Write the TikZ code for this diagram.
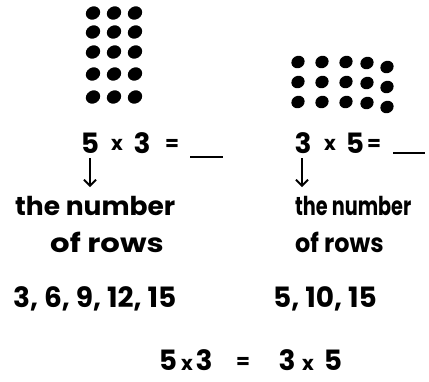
\documentclass[tikz,border=0pt]{standalone}
\usepackage{fontspec}
\setmainfont{Poppins}
\usetikzlibrary{arrows.meta}
\begin{document}
\begin{tikzpicture}[x=1pt,y=-1pt,
  dot/.style={fill=black,draw=none},
  txt/.style={inner sep=0pt,font=\fontsize{28}{30}\selectfont\bfseries},
  sml/.style={inner sep=0pt,font=\fontsize{20}{22}\selectfont\bfseries},
  lbl/.style={inner sep=0pt,align=left,font=\fontsize{26}{37}\selectfont\bfseries},
  arr/.style={line width=1.8pt,-{Straight Barb[length=6pt,width=12pt,line width=1.8pt]}},
  blank/.style={line width=2pt}]
\useasboundingbox (0,0) rectangle (429,381);
% left array 5 rows x 3 columns
\foreach \r/\yy in {1/13,2/32,3/52,4/74,5/97}{
  \foreach \c/\xx in {1/93,2/114,3/135}{
    \fill[dot,rotate around={30:(\xx,\yy)}] (\xx,\yy) ellipse [x radius=7.4pt,y radius=6.4pt];
  }
}
% right array 3 rows x 5 columns
\foreach \r/\yy in {1/62,2/82,3/102}{
  \foreach \c/\xx/\dy in {1/298/0,2/322/0,3/346/0,4/367/1,5/387/5}{
    \fill[dot,rotate around={30:(\xx,\yy+\dy)}] (\xx,\yy+\dy) ellipse [x radius=6.8pt,y radius=6.1pt];
  }
}
% left equation
\node[txt] (l5) at (90,143) {5};
\node[sml] (lx) at (117,145) {x};
\node[txt] (l3) at (142,143) {3};
\node[sml] (leq) at (172,145) {=};
\coordinate (lbA) at (190,157);
\coordinate (lbB) at (223,157);
\draw[blank] (lbA) -- (lbB);
% right equation
\node[txt] (r3) at (303,143) {3};
\node[sml] (rx) at (330,145) {x};
\node[txt] (r5) at (355,143) {5};
\node[sml] (req) at (374,145) {=};
\coordinate (rbA) at (393,153);
\coordinate (rbB) at (425,153);
\draw[blank] (rbA) -- (rbB);
% arrows
\coordinate (laStart) at (90,158);
\coordinate (laEnd) at (90,187);
\coordinate (raStart) at (302,158);
\coordinate (raEnd) at (302,187);
\draw[arr] (laStart) -- (laEnd);
\draw[arr] (raStart) -- (raEnd);
% labels
\node[lbl,anchor=base west,xscale=1.02] (ltxt) at (15,215) {the number};
\node[lbl,anchor=base west,xscale=1.18] (ltxt2) at (50,252) {of rows};
\node[lbl,anchor=base west,xscale=0.74] (rtxt) at (295,215) {the number};
\node[lbl,anchor=base west,xscale=0.92] (rtxt2) at (295,252) {of rows};
% lists
\node[txt,anchor=base west] (llist) at (13,307) {3, 6, 9, 12, 15};
\node[txt,anchor=base west] (rlist) at (273,307) {5, 10, 15};
% bottom equation
\node[txt,anchor=base] (b1) at (168,370) {5};
\node[sml,anchor=base] (b2) at (187,370) {x};
\node[txt,anchor=base] (b3) at (204,370) {3};
\node[sml,anchor=base] (b4) at (243,368) {=};
\node[txt,anchor=base] (b5) at (287,370) {3};
\node[sml,anchor=base] (b6) at (308,370) {x};
\node[txt,anchor=base] (b7) at (333,370) {5};
\end{tikzpicture}
\end{document}
